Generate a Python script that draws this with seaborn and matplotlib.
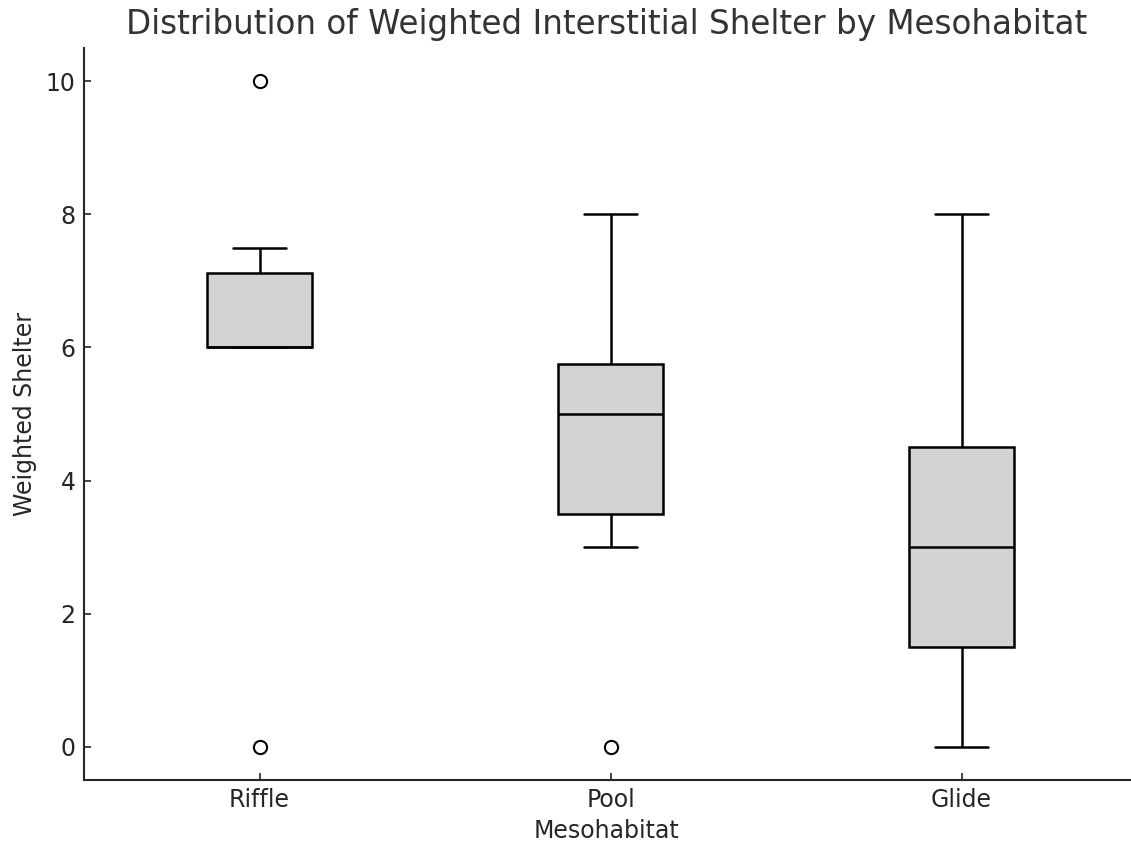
import numpy as np
import pandas as pd
import matplotlib
matplotlib.use("Agg")
import matplotlib.pyplot as plt
import seaborn as sns

# Data
riffle = [0, 6, 6, 6, 6, 7, 7.5, 10]
pool = [0, 3, 4, 5, 5.5, 6, 8]
glide = [0, 1, 2, 3, 4, 5, 8]
categories = ["Riffle", "Pool", "Glide"]
yticks = [0, 2, 4, 6, 8, 10]

df = pd.DataFrame({
    "Mesohabitat": ["Riffle"] * len(riffle) + ["Pool"] * len(pool) + ["Glide"] * len(glide),
    "Weighted Shelter": riffle + pool + glide,
})

sns.set_style("ticks")
plt.rcParams["font.family"] = ["DejaVu Sans"]

fig = plt.figure(figsize=(11.31, 8.43), dpi=100)
ax = fig.add_axes([84 / 1131, 63 / 843, (1130 - 84) / 1131, (780 - 48) / 843])

sns.boxplot(
    data=df, x="Mesohabitat", y="Weighted Shelter", order=categories,
    color="lightgray", width=0.3, linewidth=1.8, linecolor="black",
    saturation=1,
    flierprops=dict(marker="o", markerfacecolor="none", markeredgecolor="black",
                    markersize=9.5, markeredgewidth=1.5),
    ax=ax,
)

ax.set_xlim(-0.5, 2.48)
ax.set_ylim(-0.5, 10.5)
ax.set_yticks(yticks)
sns.despine(ax=ax)
for s in ["left", "bottom"]:
    ax.spines[s].set_color("#262626")
    ax.spines[s].set_linewidth(1.5)
ax.tick_params(direction="in", length=5, width=1.2, labelsize=17, colors="#262626", pad=6)
ax.set_title("Distribution of Weighted Interstitial Shelter by Mesohabitat",
             fontsize=23.5, color="#333333", pad=10)
ax.set_xlabel("Mesohabitat", fontsize=17, color="#262626", labelpad=5)
ax.set_ylabel("Weighted Shelter", fontsize=17, color="#262626", labelpad=6)

fig.savefig("out.png", dpi=100)
